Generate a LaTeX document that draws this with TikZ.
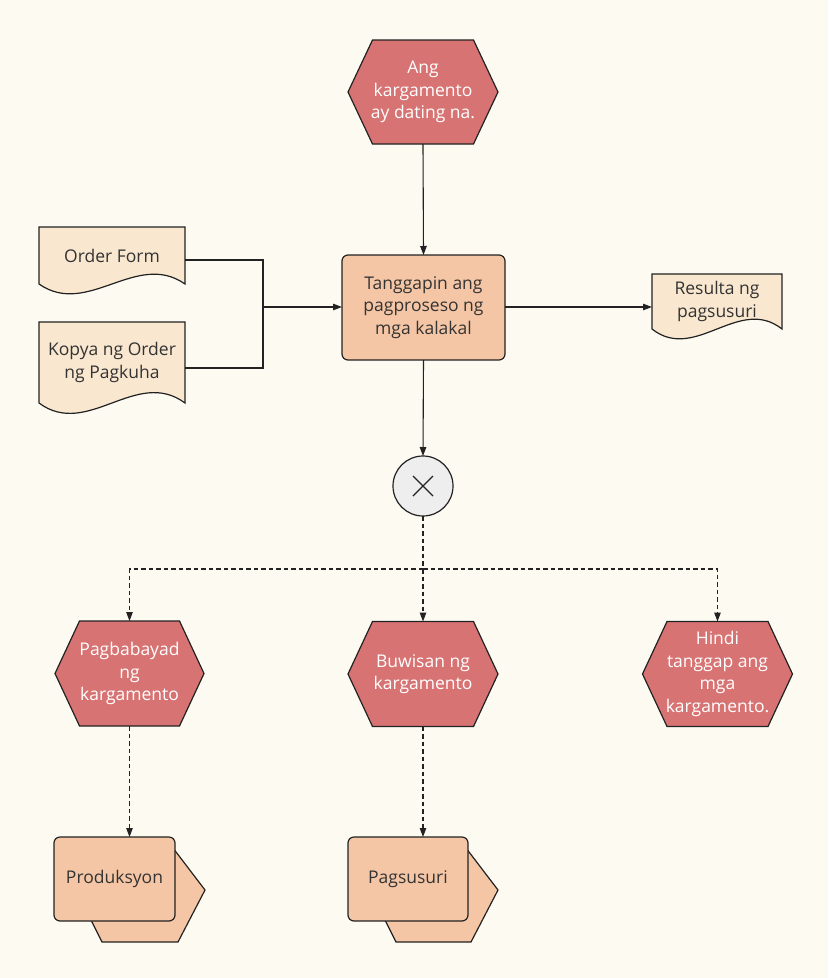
\documentclass[tikz,border=0pt]{standalone}
\usepackage{fontspec}
\setmainfont{Open Sans}
\usetikzlibrary{calc,arrows.meta}
\pgfdeclarelayer{bglayer}
\pgfdeclarelayer{shapelayer}
\pgfsetlayers{bglayer,shapelayer,main}
\definecolor{bgcol}{HTML}{FDFAF2}
\definecolor{hexcol}{HTML}{D87373}
\definecolor{peach}{HTML}{F5C6A5}
\definecolor{doccol}{HTML}{F9E7CF}
\definecolor{circcol}{HTML}{EEEEEE}
\definecolor{linecol}{HTML}{222222}
\definecolor{txtcol}{HTML}{333333}
\tikzset{
  base/.style={inner sep=0pt, outer sep=0pt, align=center,
    font=\fontsize{17.5}{22.5}\selectfont},
  eventbox/.style={base, text=white, minimum width=150pt, minimum height=105pt},
  docbox/.style={base, text=txtcol},
  procbox/.style={base, text=txtcol, draw=linecol, line width=1.2pt, fill=peach,
    rounded corners=6pt},
  shapeline/.style={draw=linecol, line width=1.2pt},
  conn/.style={draw=linecol, line width=1.1pt},
  tip/.style={-{Triangle[length=9pt,width=6.5pt]}},
  dashconn/.style={conn, dash pattern=on 4.5pt off 3pt},
}
\newcommand\hexshape[1]{%
  \path[shapeline, fill=hexcol] ($(#1.north west)+(24.5,0)$) -- ($(#1.north east)+(-24.5,0)$)
    -- (#1.east) -- ($(#1.south east)+(-24.5,0)$) -- ($(#1.south west)+(24.5,0)$)
    -- (#1.west) -- cycle;}
\newcommand\docshape[2]{%
  \path[shapeline, fill=doccol] (#1.north west) -- (#1.north east) -- (#1.south east)
    .. controls ($(#1.south east)!0.333!(#1.south west)+(0,-#2)$)
    and ($(#1.south east)!0.667!(#1.south west)+(0,#2)$) .. (#1.south west) -- cycle;}
\newcommand\backshape[1]{%
  \path[shapeline, fill=peach] ($(#1.north east)+(-2,11)$) -- ($(#1.north east)+(30,53)$)
    -- ($(#1.south east)+(3,21)$) -- ($(#1.south west)+(48,21)$) -- ($(#1.south west)+(38,1)$)
    -- ($(#1.south west)+(30,-10)$) -- ($(#1.north west)+(30,11)$) -- cycle;}
\begin{document}
\begin{tikzpicture}[x=1pt,y=-1pt]
\begin{pgfonlayer}{bglayer}
\fill[bgcol] (0,0) rectangle (828,978);
\end{pgfonlayer}
\useasboundingbox (0,0) rectangle (828,978);

% events
\node[eventbox, minimum width=150pt, minimum height=104pt] (e0) at (423,92) {Ang\\kargamento\\ay dating na.};
\node[eventbox, minimum width=149pt] (e1) at (129.5,673.5) {Pagbabayad\\ng\\kargamento};
\node[eventbox] (e2) at (423,674) {Buwisan ng\\kargamento};
\node[eventbox] (e3) at (717.5,674) {Hindi\\tanggap ang\\mga\\kargamento.};

% main function
\node[procbox, minimum width=163pt, minimum height=105pt] (p0) at (423.5,307.5) {Tanggapin ang\\pagproseso ng\\mga kalakal};

% documents
\node[docbox, minimum width=146pt, minimum height=57pt] (d1) at (112,255.5) {Order Form};
\node[docbox, minimum width=146pt, minimum height=81pt] (d2) at (112,362.5) {Kopya ng Order\\ng Pagkuha};
\node[docbox, minimum width=130pt, minimum height=55pt] (d3) at (717,301.5) {Resulta ng\\pagsusuri};

% XOR
\node[base, circle, shapeline, fill=circcol, minimum size=60pt] (x0) at (423,486) {};
\draw[linecol, line width=1.1pt] ($(x0.center)+(-10,-10)$) -- ($(x0.center)+(10,10)$)
  ($(x0.center)+(-10,10)$) -- ($(x0.center)+(10,-10)$);

% process interfaces
\node[procbox, minimum width=121pt, minimum height=84pt] (f1) at (114.5,879) {Produksyon};
\node[procbox, minimum width=120pt, minimum height=84pt] (f2) at (408,879) {Pagsusuri};

\begin{pgfonlayer}{shapelayer}
\hexshape{e0}
\hexshape{e1}
\hexshape{e2}
\hexshape{e3}
\docshape{d1}{34}
\docshape{d2}{36}
\docshape{d3}{34}
\backshape{f1}
\backshape{f2}
\end{pgfonlayer}

% connectors
\coordinate (j) at (263,307);
\coordinate (s) at (423,569);
\draw[conn] ($(d1.east)+(0,4.5)$) -| (j);
\draw[conn] ($(d2.east)+(0,5.5)$) -| (j);
\draw[conn, tip] (j) -- (j -| p0.west);
\draw[conn, tip] (e0.south) -- (p0.north);
\draw[conn, tip] (p0.east |- j) -- (j -| d3.west);
\draw[conn, tip] (p0.south) -- (x0.north);
\draw[dashconn] (x0.south) -- (s);
\draw[dashconn, tip] (s) -| (e1.north);
\draw[dashconn, tip] (s) -| (e3.north);
\draw[dashconn, tip] (s) -- (e2.north);
\draw[dashconn, tip] (e1.south) -- (e1.south |- f1.north);
\draw[dashconn, tip] (e2.south) -- (e2.south |- f2.north);
\end{tikzpicture}
\end{document}
